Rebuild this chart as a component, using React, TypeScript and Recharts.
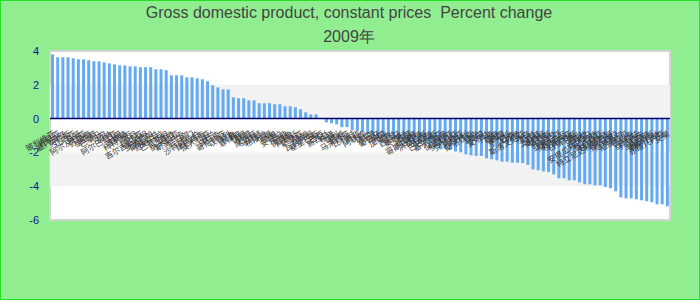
import React from 'react';
import { BarChart, Bar, XAxis, YAxis, ReferenceArea, ReferenceLine } from 'recharts';

const titleLine1 = 'Gross domestic product, constant prices  Percent change';
const titleLine2 = '2009年';

const countries = [
  '玻利维亚', '肯尼亚', '塞内加尔', '突尼斯', '几内亚', '多哥', '阿尔及利亚', '苏里南', '圭亚那', '巴拿马',
  '贝宁', '加纳', '阿尔巴尼亚', '马里', '喀麦隆', '科特迪瓦', '不丹', '冈比亚', '吉尔吉斯斯坦', '多米尼加',
  '斯威士兰', '危地马拉', '巴基斯坦', '海地', '纳米比亚', '斯里兰卡', '尼泊尔', '也门', '沙特阿拉伯', '津巴布韦',
  '澳大利亚', '波兰', '乌拉圭', '哥伦比亚', '以色列', '秘鲁', '菲律宾', '伊朗', '韩国', '摩洛哥',
  '马其顿', '布隆迪', '乍得', '刚果', '安哥拉', '中非', '佛得角', '阿根廷', '萨摩亚', '汤加',
  '瓦努阿图', '基里巴斯', '巴西', '新西兰', '希腊', '智利', '挪威', '马来西亚', '比利时', '南非',
  '阿联酋', '瑞士', '法国', '葡萄牙', '美国', '加拿大', '荷兰', '西班牙', '奥地利', '泰国',
  '新加坡', '哥斯达黎加', '洪都拉斯', '牙买加', '巴巴多斯', '塞尔维亚', '波黑', '保加利亚', '罗马尼亚', '克罗地亚',
  '匈牙利', '斯洛伐克', '捷克', '英国', '爱尔兰', '丹麦', '瑞典', '德国', '意大利', '日本',
  '卢森堡', '斯洛文尼亚', '冰岛', '芬兰', '土耳其', '墨西哥', '俄罗斯', '乌克兰', '亚美尼亚', '摩尔多瓦',
  '格鲁吉亚', '白俄罗斯', '黑山', '马耳他', '巴哈马', '安提瓜和巴布达', '圣卢西亚', '格林纳达', '特立尼达和多巴哥', '委内瑞拉',
  '厄瓜多尔', '尼加拉瓜', '巴拉圭', '伯利兹', '马尔代夫', '塞舌尔', '毛里求斯', '博茨瓦纳', '赤道几内亚', '文莱',
];

const growth = [
  3.80, 3.63, 3.63, 3.63, 3.57, 3.51, 3.51, 3.45, 3.39, 3.39,
  3.33, 3.27, 3.21, 3.15, 3.15, 3.09, 3.09, 3.04, 3.04, 3.04,
  2.92, 2.92, 2.86, 2.56, 2.56, 2.56, 2.44, 2.44, 2.38, 2.33,
  2.21, 1.97, 1.85, 1.73, 1.73, 1.26, 1.20, 1.20, 1.08, 1.08,
  0.91, 0.91, 0.91, 0.85, 0.85, 0.73, 0.73, 0.67, 0.55, 0.37,
  0.25, 0.25, 0.0, -0.22, -0.28, -0.34, -0.51, -0.51, -0.69, -0.75,
  -0.80, -0.90, -1.00, -1.05, -1.10, -1.15, -1.20, -1.25, -1.30, -1.35,
  -1.45, -1.50, -1.55, -1.60, -1.70, -1.75, -1.80, -1.85, -1.95, -2.00,
  -2.11, -2.17, -2.21, -2.21, -2.35, -2.41, -2.47, -2.55, -2.55, -2.61,
  -2.61, -2.63, -2.74, -3.00, -3.06, -3.12, -3.16, -3.30, -3.53, -3.53,
  -3.65, -3.65, -3.77, -3.89, -3.89, -3.95, -3.95, -4.05, -4.12, -4.30,
  -4.66, -4.72, -4.72, -4.78, -4.83, -4.89, -4.95, -5.07, -5.07, -5.19,
];

const yTicks = [4, 2, 0, -2, -4, -6];
const grayBands = [
  [0, 2],
  [-4, -2],
];

const W = 700;
const H = 300;
const Y_MIN = -6;
const Y_MAX = 4;
const MARGIN = { top: 51, right: 30, bottom: 50, left: 0 };
const X_AXIS_H = 30;
const Y_AXIS_W = 50;
const PLOT_H = H - MARGIN.top - MARGIN.bottom - X_AXIS_H;
const ZERO_Y = MARGIN.top + (PLOT_H * (Y_MAX - 0)) / (Y_MAX - Y_MIN);

const data = countries.map((name, i) => ({ name, value: growth[i] }));

function CategoryTick(props: any) {
  const { x, payload } = props;
  return (
    <g transform={`translate(${x + 3},${ZERO_Y + 17})`}>
      <text
        textAnchor="end"
        transform="rotate(-30)"
        fontSize={8}
        fill="#333"
        fontFamily="'Noto Sans CJK SC', sans-serif"
      >
        {payload.value}
      </text>
    </g>
  );
}

const titleFont = "'Liberation Sans', Arial, sans-serif";

export default function App() {
  return (
    <div style={{ position: 'absolute', left: 0, top: 0, width: W, height: H }}>
      <svg width={W} height={H} style={{ position: 'absolute', left: 0, top: 0 }}>
        <rect x={0.5} y={0.5} width={W - 1} height={H - 1} fill="#90EE90" stroke="#22e022" strokeWidth={1} />
        <text x={349} y={18} textAnchor="middle" fontSize={16} fill="#444" fontFamily={titleFont} style={{ whiteSpace: 'pre' }}>
          {titleLine1}
        </text>
        <text x={349} y={42} textAnchor="middle" fontSize={16} fill="#444" fontFamily={titleFont} style={{ whiteSpace: 'pre' }}>
          {titleLine2}
        </text>
      </svg>
      <div style={{ position: 'absolute', left: 0, top: 0 }}>
        <BarChart width={W} height={H} data={data} margin={MARGIN} barCategoryGap="20%">
          <YAxis
            type="number"
            domain={[Y_MIN, Y_MAX]}
            ticks={yTicks}
            width={Y_AXIS_W}
            axisLine={false}
            tickLine={false}
            tickSize={0}
            tickMargin={11}
            interval={0}
            tick={{ fontSize: 11, fill: '#10109a', fontFamily: titleFont }}
            allowDataOverflow
          />
          <ReferenceArea y1={Y_MIN} y2={Y_MAX} fill="#ffffff" fillOpacity={1} stroke="#d4d4d4" strokeWidth={2} />
          {grayBands.map(([a, b]) => (
            <ReferenceArea key={`${a}`} y1={a} y2={b} fill="#f2f2f2" fillOpacity={1} stroke="none" />
          ))}
          <Bar dataKey="value" fill="#64aaf2" isAnimationActive={false} />
          <ReferenceLine y={0} stroke="#000070" strokeWidth={1.5} />
          <XAxis
            dataKey="name"
            interval={0}
            height={X_AXIS_H}
            axisLine={false}
            tickLine={false}
            tick={<CategoryTick />}
          />
        </BarChart>
      </div>
    </div>
  );
}
